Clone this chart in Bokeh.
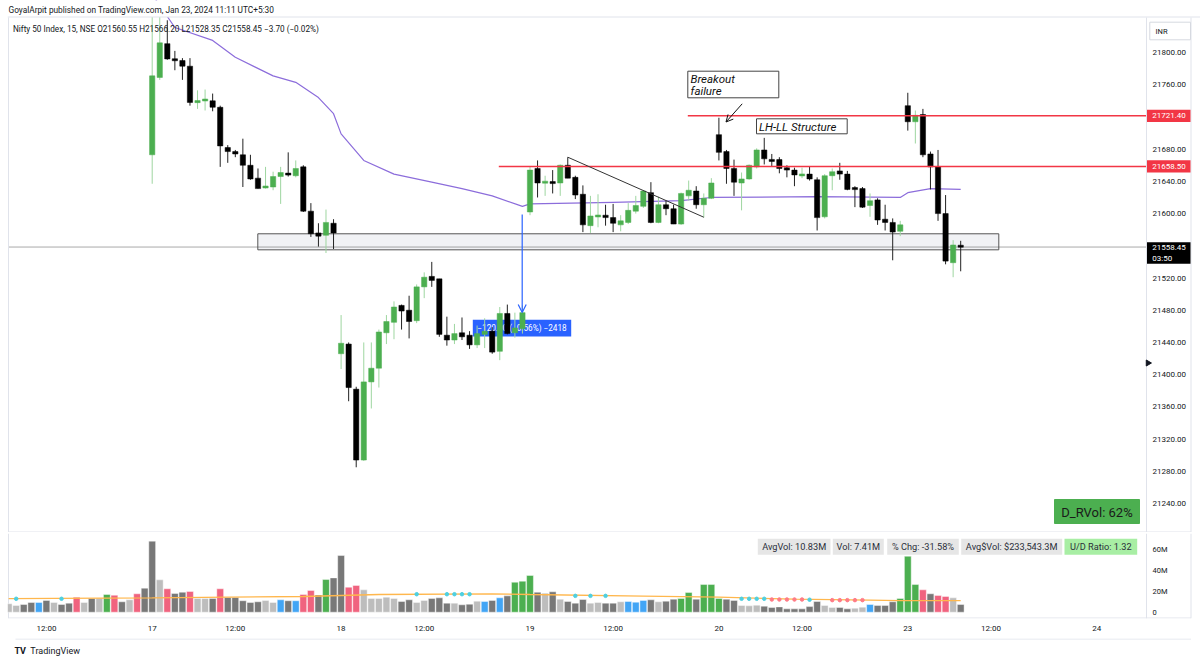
from bokeh.plotting import figure
from bokeh.layouts import column
from bokeh.models import (Range1d, FixedTicker, NumeralTickFormatter, Label, BoxAnnotation,
                          Span, Arrow, OpenHead, ColumnDataSource)
from bokeh.embed import file_html
from bokeh.resources import INLINE

FONT = "Roboto"
TXT = "#131722"
BORDER = "#e0e3eb"

# ---------------- data ----------------
candle_index = list(range(25, 133))
opens = [21673, 21769, 21811, 21792, 21790, 21783, 21738, 21740, 21740, 21732, 21682, 21677, 21673, 21660, 21644,
         21632, 21633, 21646, 21650, 21647, 21658, 21603, 21576, 21573, 21588,
         21426, 21438, 21382, 21294, 21391, 21408, 21452, 21465, 21486, 21480, 21467, 21509, 21522, 21519, 21449,
         21443, 21452, 21449, 21437, 21450, 21454, 21429, 21476, 21452, 21457,
         21602, 21656, 21638, 21639, 21638, 21660, 21645, 21624, 21585, 21596, 21598, 21595, 21586, 21589, 21603,
         21609, 21626, 21589, 21611, 21606, 21587, 21622, 21628, 21611, 21619,
         21698, 21677, 21656, 21638, 21643, 21658, 21679, 21667, 21667, 21657, 21654, 21647, 21649, 21642, 21596,
         21647, 21653, 21649, 21632, 21631, 21610, 21617, 21593, 21589, 21578,
         21734, 21714, 21723, 21674, 21658, 21600, 21539, 21560.55]
highs = [21850, 21850, 21840, 21802, 21793, 21793, 21753, 21754, 21749, 21734, 21685, 21679, 21693, 21673, 21656,
         21658, 21652, 21658, 21676, 21666, 21660, 21613, 21588, 21605, 21593,
         21474, 21440, 21385, 21440, 21440, 21456, 21474, 21491, 21487, 21498, 21512, 21527, 21540, 21519, 21472,
         21463, 21471, 21454, 21461, 21470, 21459, 21484, 21487, 21477, 21486,
         21658, 21666, 21647, 21654, 21661, 21670, 21647, 21635, 21622, 21624, 21611, 21612, 21598, 21613, 21622,
         21629, 21639, 21621, 21616, 21611, 21626, 21641, 21634, 21625, 21644,
         21719, 21679, 21667, 21651, 21661, 21681, 21694, 21674, 21670, 21660, 21657, 21657, 21658, 21645, 21649,
         21656, 21663, 21653, 21634, 21633, 21625, 21619, 21611, 21594, 21591,
         21750, 21728, 21730, 21677, 21679, 21623, 21567, 21566.20]
lows = [21637, 21766, 21791, 21778, 21766, 21734, 21730, 21728, 21727, 21658, 21663, 21670, 21633, 21642, 21631,
        21631, 21629, 21612, 21646, 21645, 21602, 21571, 21559, 21551, 21556,
        21407, 21367, 21285, 21293, 21358, 21384, 21438, 21444, 21456, 21445, 21464, 21495, 21509, 21447, 21436,
        21438, 21443, 21432, 21433, 21433, 21426, 21418, 21450, 21446, 21451,
        21598, 21620, 21622, 21625, 21622, 21644, 21618, 21577, 21576, 21583, 21585, 21577, 21578, 21587, 21600,
        21607, 21588, 21588, 21598, 21587, 21586, 21616, 21606, 21595, 21618,
        21666, 21637, 21622, 21604, 21642, 21656, 21661, 21658, 21650, 21645, 21634, 21644, 21641, 21579, 21594,
        21629, 21642, 21629, 21608, 21607, 21596, 21586, 21579, 21542, 21572,
        21703, 21687, 21670, 21630, 21591, 21537, 21521, 21528.35]
closes = [21771, 21812, 21792, 21790, 21783, 21738, 21740, 21742, 21732, 21684, 21677, 21674, 21660, 21643, 21631,
          21634, 21646, 21651, 21648, 21656, 21603, 21575, 21572, 21589, 21576,
          21439, 21384, 21294, 21391, 21408, 21453, 21466, 21484, 21479, 21466, 21509, 21521, 21517, 21450, 21443,
          21451, 21447, 21437, 21451, 21454, 21428, 21476, 21451, 21458, 21477,
          21654, 21638, 21640, 21638, 21660, 21644, 21623, 21586, 21597, 21598, 21595, 21588, 21591, 21604, 21610,
          21628, 21589, 21611, 21606, 21587, 21625, 21629, 21611, 21619, 21638,
          21676, 21656, 21639, 21643, 21660, 21679, 21668, 21665, 21656, 21654, 21648, 21649, 21643, 21595, 21647,
          21652, 21649, 21630, 21630, 21608, 21616, 21592, 21589, 21577, 21586,
          21714, 21722, 21673, 21658, 21600, 21541, 21561, 21558.45]

vol_index = list(range(6, 133))
vol_m = [8.1, 6.4, 7.4, 9.3, 9.3, 11.3, 9.3, 7.4, 8.7, 14.4, 9.3, 13.2, 13.5, 17.0, 16.3, 10.0, 11.9, 17.7, 23.1,
         68.3, 31.1, 22.5, 18.0, 19.2, 19.9, 13.2, 13.2, 13.2, 22.5, 14.1, 14.1, 11.0, 9.3, 10.0, 11.3, 9.3, 11.9,
         11.0, 11.0, 17.0, 20.9, 16.6, 31.4, 33.0,
         54.5, 24.0, 25.7, 21.5, 13.2, 13.2, 14.4, 13.2, 10.3, 11.9, 9.3, 11.3, 13.2, 13.8, 8.7, 8.7, 7.1, 7.7,
         10.6, 10.3, 11.3, 13.8, 15.7, 28.8, 29.8,
         35.3, 19.2, 18.3, 19.6, 12.5, 10.3, 8.7, 12.2, 8.7, 9.3, 8.7, 8.7, 10.0, 10.3, 9.6, 11.3, 11.9, 10.0,
         10.6, 12.5, 13.2, 18.9, 12.5, 26.6, 26.6,
         13.2, 12.5, 11.3, 6.4, 6.1, 6.7, 5.8, 4.5, 5.1, 3.2, 3.2, 3.2, 5.4, 10.3, 6.4, 4.5, 4.5, 3.2, 3.8, 4.8,
         7.4, 6.4, 6.4, 10.0, 13.2,
         53.8, 26.6, 21.5, 17.7, 16.0, 15.1, 13.8, 7.41]
vol_class = ["l", "l", "d", "d", "b", "d", "l", "d", "d", "p", "l", "d", "l", "g", "p", "d", "l", "p", "d",
             "d", "l", "p", "d", "d", "p", "l", "l", "d", "p", "d", "d", "d", "d", "d", "l", "l", "b",
             "d", "b", "p", "p", "d", "g", "d",
             "d", "p", "p", "l", "l", "l", "l", "l", "d", "d", "l", "l", "d", "d", "d", "l", "d", "d",
             "l", "b", "d", "b", "d", "g", "g",
             "g", "d", "l", "d", "l", "d", "d", "d", "l", "l", "d", "d", "l", "b", "b", "b", "d", "l",
             "d", "d", "g", "g", "d", "g", "g",
             "g", "d", "d", "l", "l", "l", "d", "d", "d", "d", "d", "d", "d", "d", "l", "l", "d", "d", "l", "l",
             "b", "d", "d", "d", "g",
             "g", "g", "p", "d", "p", "p", "l", "d"]

ma_index = [25, 28, 33, 36, 41, 44, 47, 49, 50, 53, 57, 62, 66, 70, 74, 75, 86, 95, 99, 113, 124, 125, 128, 132]
ma_value = [21872, 21831, 21815, 21794, 21771, 21763, 21744, 21724, 21699, 21666, 21649, 21639, 21631, 21622,
            21609, 21612, 21614, 21616, 21620, 21621, 21620, 21626, 21631, 21630]

vma_index = [6, 25, 45, 55, 70, 75, 90, 100, 110, 120, 124, 132]
vma_value = [13.0, 13.8, 15.1, 17.0, 17.7, 17.0, 15.4, 14.4, 12.5, 11.6, 11.2, 11.2]

dot_index = [7, 13, 60, 64, 65, 66, 67, 81, 83, 85, 103, 104, 105, 106, 107, 108, 109, 110, 111, 112,
             115, 116, 117, 118, 119]
dot_value = [12.9, 12.9, 17.3, 17.3, 17.3, 17.3, 17.3, 15.7, 15.7, 15.7, 12.9, 12.9, 12.9, 12.9, 12.2, 12.2,
             12.2, 12.2, 12.2, 12.0, 11.6, 11.6, 11.6, 11.6, 11.6]
dot_class = ["t", "t", "t", "t", "t", "t", "t", "t", "t", "t", "t", "t", "t", "t", "r", "r", "r", "r", "r",
             "t", "r", "r", "r", "r", "r"]

x_tick_index = [11, 25, 36, 50, 61, 75, 86, 100, 111, 125, 136, 150]
x_tick_labels = ["12:00", "17", "12:00", "18", "12:00", "19", "12:00", "20", "12:00", "23", "12:00", "24"]
price_ticks = [21240, 21280, 21320, 21360, 21400, 21440, 21480, 21520, 21600, 21640, 21680, 21760, 21800]
vol_ticks = [0, 20, 40, 60]
vol_tick_labels = ["0", "20M", "40M", "60M"]

level_prices = [21721.40, 21658.50]
level_labels = ["21721.40", "21658.50"]
last_price = 21558.45


# ---------------- pixel helpers for drawings / annotations ----------------
def kx(px):
    return 25 + (px - 151.7) / 7.556


def py(y):
    return 21800 - (y - 52) / 0.8054


def vy(y):
    return (611.7 - y) / 1.04


def style_axis(a, size):
    a.major_label_text_font = FONT
    a.major_label_text_font_size = size
    a.major_label_text_color = TXT
    a.axis_line_color = None
    a.major_tick_line_color = None
    a.minor_tick_line_color = None
    a.major_tick_out = 0
    a.major_tick_in = 0
    a.minor_tick_out = 0
    a.minor_tick_in = 0


# ---------------- price pane ----------------
p = figure(width=1200, height=532, x_range=Range1d(kx(7), kx(1200)), y_range=Range1d(py(532), py(0)),
           output_backend="svg", toolbar_location=None, x_axis_location=None,
           y_axis_location="right", min_border_left=7, min_border_right=0,
           min_border_top=0, min_border_bottom=0)
p.grid.visible = False
p.outline_line_color = None
p.border_fill_color = "white"

ax = p.yaxis[0]
ax.ticker = FixedTicker(ticks=price_ticks)
ax.formatter = NumeralTickFormatter(format="0.00")
ax.fixed_location = kx(1146)
style_axis(ax, "8px")
ax.major_label_standoff = 6

# support zone + last price dotted line
p.quad(left=[kx(257.3)], right=[kx(998.3)], top=[21574.9], bottom=[21555.0],
       fill_color="#eff0f3", fill_alpha=0.85, line_color="#555555", line_width=1)
p.segment(x0=[kx(8)], y0=[last_price], x1=[kx(1146)], y1=[last_price], line_color="#555555",
          line_dash="1 1", line_width=1)

# measure label under candles
p.add_layout(BoxAnnotation(left=kx(472.3), right=kx(570.7), top=py(319.3), bottom=py(336),
                           fill_color="#2962ff", fill_alpha=1, line_color=None, level="underlay"))
p.add_layout(Label(x=kx(521.5), y=py(327.7), text="\u2212120.90 (\u22120.56%) \u22122418",
                   text_font=FONT, text_font_size="8.2px", text_color="white",
                   text_align="center", text_baseline="middle", level="underlay"))

# moving average
p.line(ma_index, ma_value, line_color="#8c6ddb", line_width=1.2)

up = [c >= o for o, c in zip(opens, closes)]
tops, bots = [], []
for o, c in zip(opens, closes):
    t, b = max(o, c), min(o, c)
    if t - b < 2.5:
        m = (t + b) / 2
        t, b = m + 1.25, m - 1.25
    tops.append(t)
    bots.append(b)
src = ColumnDataSource(dict(
    x=candle_index, h=highs, l=lows, top=tops, bottom=bots,
    body=["#4caf50" if u else "#000000" for u in up],
    wick=["#9ed6a0" if u else "#222222" for u in up]))
p.segment(x0="x", y0="l", x1="x", y1="h", line_color="wick", line_width=1, source=src)
p.vbar(x="x", width=0.7, top="top", bottom="bottom", fill_color="body", line_color="body",
       line_width=0.5, source=src)

# drawings
p.segment(x0=[kx(687.3), kx(498.3)], y0=level_prices, x1=[kx(1146), kx(1146)], y1=level_prices,
          line_color="#f23645", line_width=1.5)
p.segment(x0=[80.0], y0=[21670.0], x1=[98.0], y1=[21595.5], line_color="#333333", line_width=1)

p.add_layout(Arrow(end=OpenHead(size=8, line_color="#2962ff", line_width=1.2),
                   x_start=kx(521.7), y_start=py(214), x_end=kx(521.7), y_end=py(312),
                   line_color="#2962ff", line_width=1.2))

p.add_layout(BoxAnnotation(left=kx(687.3), right=kx(778.3), top=py(70.7), bottom=py(97.3),
                           fill_color="white", fill_alpha=1, line_color="#444444", line_alpha=1,
                           line_width=1))
p.add_layout(Label(x=kx(690), y=py(78.5), text="Breakout", text_font=FONT, text_font_style="italic",
                   text_font_size="11.5px", text_color="#111111", text_baseline="middle"))
p.add_layout(Label(x=kx(690), y=py(90.5), text="failure", text_font=FONT, text_font_style="italic",
                   text_font_size="11.5px", text_color="#111111", text_baseline="middle"))
p.add_layout(Arrow(end=OpenHead(size=7, line_color="#111111", line_width=1),
                   x_start=kx(741.7), y_start=py(103.3), x_end=kx(725.5), y_end=py(121.5),
                   line_color="#111111", line_width=1))

p.add_layout(BoxAnnotation(left=kx(756), right=kx(846.7), top=py(118.3), bottom=py(133.3),
                           fill_color="white", fill_alpha=1, line_color="#444444", line_alpha=1,
                           line_width=1))
p.add_layout(Label(x=kx(758.5), y=py(126), text="LH-LL Structure", text_font=FONT,
                   text_font_style="italic", text_font_size="11.5px", text_color="#111111",
                   text_baseline="middle"))

p.add_layout(BoxAnnotation(left=kx(1054), right=kx(1139), top=py(499), bottom=py(523),
                           fill_color="#4caf50", fill_alpha=1, line_color="#4caf50", line_alpha=1))
p.add_layout(Label(x=kx(1096.5), y=py(511.5), text="D_RVol: 62%", text_font=FONT,
                   text_font_size="13px", text_color="#1a1a1a", text_align="center",
                   text_baseline="middle"))

# pane borders
p.segment(x0=[kx(8), kx(1146), kx(1190.5), kx(8)], y0=[py(17), py(17), py(17), py(531.5)],
          x1=[kx(8), kx(1146), kx(1190.5), kx(1190.5)], y1=[py(532), py(532), py(532), py(531.5)],
          line_color=BORDER, line_width=1)
# small marker on the price scale edge
p.scatter(x=[kx(1147.5)], y=[py(362.5)], marker="triangle", angle=-1.5708, size=6,
          color="#131722")

# header band (chart content stops under it)
p.add_layout(BoxAnnotation(bottom=py(16.5), fill_color="white", fill_alpha=1, line_color=None))
p.add_layout(Span(location=py(16.5), dimension="width", line_color=BORDER, line_width=1))
p.add_layout(Label(x=kx(8), y=py(9.5), text="GoyalArpit published on TradingView.com, Jan 23, 2024 11:11 UTC+5:30",
                   text_font=FONT, text_font_size="8.3px", text_color=TXT, text_baseline="middle"))
p.add_layout(Label(x=kx(12.5), y=py(28.5),
                   text="Nifty 50 Index, 15, NSE  O21560.55  H21566.20  L21528.35  C21558.45  \u22123.70 (\u22120.02%)",
                   text_font=FONT, text_font_size="8.2px", text_color=TXT, text_baseline="middle"))

# axis-side labels
p.add_layout(BoxAnnotation(left=kx(1149.3), right=kx(1190), top=py(21.7), bottom=py(39.3),
                           fill_color="white", fill_alpha=1, line_color="#d6d9e0", line_alpha=1,
                           line_width=1))
p.add_layout(Label(x=kx(1155), y=py(30.5), text="INR", text_font=FONT, text_font_size="7.5px",
                   text_color=TXT, text_baseline="middle"))
for lp, lt in zip(level_prices, level_labels):
    p.add_layout(BoxAnnotation(left=kx(1146.5), right=kx(1190), top=lp + 7.6, bottom=lp - 7.6,
                               fill_color="#f23645", fill_alpha=1, line_color=None))
    p.add_layout(Label(x=kx(1151.7), y=lp, text=lt, text_font=FONT, text_font_size="8px",
                       text_color="white", text_baseline="middle"))
p.add_layout(BoxAnnotation(left=kx(1146.5), right=kx(1190), top=py(241.7), bottom=py(263.3),
                           fill_color="#000000", fill_alpha=1, line_color=None))
p.add_layout(Label(x=kx(1151.7), y=last_price, text="21558.45", text_font=FONT, text_font_size="8px",
                   text_color="white", text_baseline="middle"))
p.add_layout(Label(x=kx(1151.7), y=py(258.3), text="03:50", text_font=FONT, text_font_size="8px",
                   text_color="white", text_baseline="middle"))

# ---------------- volume pane ----------------
pv = figure(width=1200, height=106, x_range=Range1d(kx(7), kx(1200)), y_range=Range1d(vy(618), vy(533)),
            output_backend="svg", toolbar_location=None, y_axis_location="right",
            min_border_left=7, min_border_right=0, min_border_top=1, min_border_bottom=20)
pv.grid.visible = False
pv.outline_line_color = None
pv.border_fill_color = "white"

va = pv.yaxis[0]
va.ticker = FixedTicker(ticks=vol_ticks)
va.major_label_overrides = {t: s for t, s in zip(vol_ticks, vol_tick_labels)}
va.fixed_location = kx(1146)
style_axis(va, "7.5px")
va.major_label_standoff = 6

xa = pv.xaxis[0]
xa.ticker = FixedTicker(ticks=x_tick_index)
xa.major_label_overrides = {t: s for t, s in zip(x_tick_index, x_tick_labels)}
style_axis(xa, "8px")
xa.major_label_standoff = 5

pv.segment(x0=[kx(8), kx(1146), kx(1190.5), kx(8)], y0=[vy(533), vy(533), vy(533), vy(617.5)],
           x1=[kx(8), kx(1146), kx(1190.5), kx(1190.5)], y1=[vy(618), vy(618), vy(618), vy(617.5)],
           line_color=BORDER, line_width=1)

vol_colors = {"d": "#787878", "l": "#bdbdbd", "g": "#4caf50", "p": "#f0637f", "b": "#42a5f5"}
vsrc = ColumnDataSource(dict(x=vol_index, v=vol_m, c=[vol_colors[k] for k in vol_class]))
pv.vbar(x="x", width=0.9, top="v", bottom=0, fill_color="c", line_color="white", line_alpha=0.7,
        line_width=0.6, source=vsrc)
pv.line(vma_index, vma_value, line_color="#ffb74d", line_width=1.3)
dot_colors = {"t": "#4dd0e1", "r": "#ff7b86"}
pv.scatter(dot_index, dot_value, size=3.5, color=[dot_colors[k] for k in dot_class])

stat_boxes = [(757.3, 830.0, "AvgVol: 10.83M", "#e6e6e6"),
              (832.3, 883.3, "Vol: 7.41M", "#e6e6e6"),
              (886.7, 958.3, "% Chg: -31.58%", "#e6e6e6"),
              (960.7, 1061.7, "Avg$Vol: $233,543.3M", "#e6e6e6"),
              (1064.0, 1136.7, "U/D Ratio: 1.32", "#a8eea4")]
for x0, x1, t, col in stat_boxes:
    pv.add_layout(BoxAnnotation(left=kx(x0), right=kx(x1), top=vy(538.3), bottom=vy(554.3),
                                fill_color=col, fill_alpha=1, line_color=None))
    pv.add_layout(Label(x=kx((x0 + x1) / 2), y=vy(546.3), text=t, text_font=FONT,
                        text_font_size="9.2px", text_color="#2a2e39", text_align="center",
                        text_baseline="middle"))

# ---------------- footer ----------------
pf = figure(width=1200, height=25, x_range=Range1d(0, 1200), y_range=Range1d(0, 25),
            output_backend="svg", toolbar_location=None, x_axis_location=None, y_axis_location=None,
            min_border_left=0, min_border_right=0, min_border_top=0, min_border_bottom=0)
pf.grid.visible = False
pf.outline_line_color = None
pf.segment(x0=[8], y0=[24.5], x1=[1190.5], y1=[24.5], line_color=BORDER, line_width=1)
pf.add_layout(Label(x=7, y=12.5, text="TV", text_font=FONT, text_font_style="bold",
                    text_font_size="9px", text_color="#131722", text_baseline="middle"))
pf.add_layout(Label(x=23, y=12.5, text="TradingView", text_font=FONT,
                    text_font_size="9px", text_color="#131722", text_baseline="middle"))

layout = column(p, pv, pf, spacing=0)
open("out.html", "w").write(file_html(layout, INLINE))
